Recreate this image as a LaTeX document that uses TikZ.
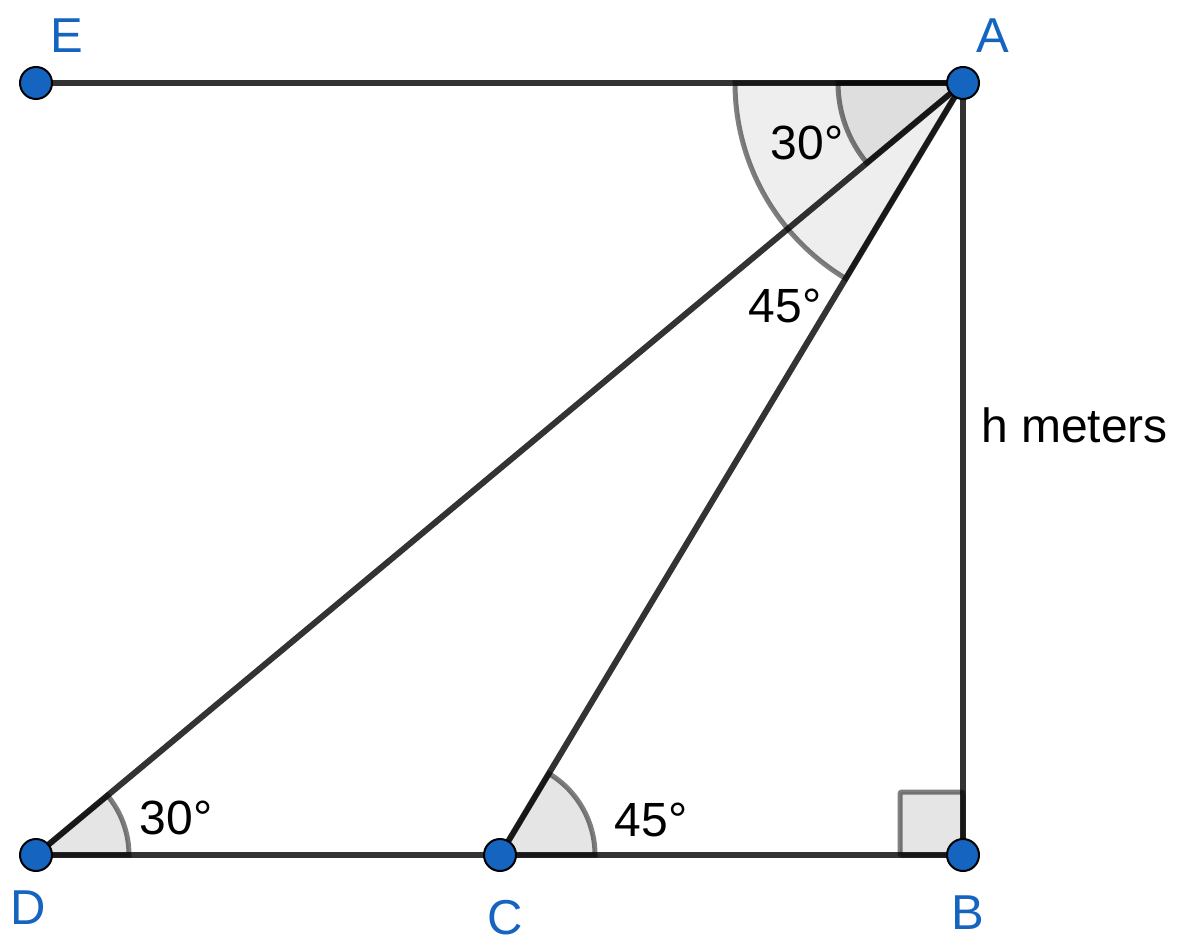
\documentclass[tikz,border=0pt]{standalone}
\usepackage{fontspec}
\setmainfont{Liberation Sans}
\definecolor{ptblue}{HTML}{1565C0}
\definecolor{segc}{HTML}{333333}
\begin{document}
\begin{tikzpicture}[x=1pt,y=-1pt,
  seg/.style={draw=segc,line width=6pt},
  pt/.style={circle,fill=ptblue,draw=black,line width=2pt,minimum size=32pt,inner sep=0pt},
  ptlabel/.style={text=ptblue,font=\fontsize{49}{56}\selectfont,inner sep=0pt},
  anglabel/.style={text=black,font=\fontsize{48}{56}\selectfont,inner sep=0pt},
  sectorA/.style={fill=black,fill opacity=0.065,draw=black,draw opacity=0.5,line width=5pt},
  sectorB/.style={fill=black,fill opacity=0.1,draw=black,draw opacity=0.5,line width=5pt}]
\useasboundingbox (0,0) rectangle (1183,949);
\fill[white] (0,0) rectangle (1183,949);
\coordinate (pE) at (36,83);
\coordinate (pA) at (963,83);
\coordinate (pB) at (963,855);
\coordinate (pC) at (500,855);
\coordinate (pD) at (36,855);
% segments
\draw[seg] (pE) -- (pA);
\draw[seg] (pA) -- (pB);
\draw[seg] (pD) -- (pB);
\draw[seg] (pA) -- (pD);
\draw[seg] (pA) -- (pC);
% angle sectors
\draw[sectorA] (pA) -- ++(180:228) arc[start angle=180,end angle=120.95,radius=228] -- cycle;
\draw[sectorA] (pA) -- ++(180:125) arc[start angle=180,end angle=140.2,radius=125] -- cycle;
\draw[sectorB] (pD) -- ++(0:93) arc[start angle=0,end angle=-39.8,radius=93] -- cycle;
\draw[sectorB] (pC) -- ++(0:95) arc[start angle=0,end angle=-59.05,radius=95] -- cycle;
\draw[sectorB,rounded corners=2pt] (pB) -- (900,855) -- (900,792) -- (963,792) -- cycle;
% points
\node[pt] (E) at (pE) {};
\node[pt] (A) at (pA) {};
\node[pt] (B) at (pB) {};
\node[pt] (C) at (pC) {};
\node[pt] (D) at (pD) {};
% labels
\node[ptlabel] (lE) at (67,36) {E};
\node[ptlabel] (lA) at (993,36) {A};
\node[ptlabel] (lB) at (968,913) {B};
\node[ptlabel] (lC) at (505,918) {C};
\node[ptlabel] (lD) at (28,908) {D};
\node[anglabel] (a1) at (807,143) {30°};
\node[anglabel] (a2) at (785,306) {45°};
\node[anglabel] (a3) at (176,818) {30°};
\node[anglabel] (a4) at (651,820) {45°};
\node[anglabel,anchor=west] (h) at (981,425) {h meters};
\end{tikzpicture}
\end{document}
